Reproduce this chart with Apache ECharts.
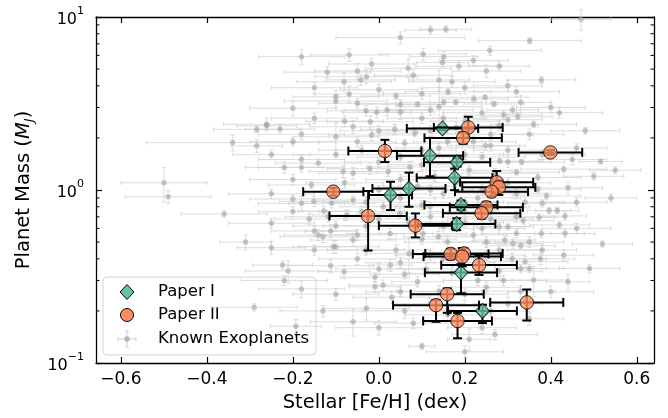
<!DOCTYPE html>
<html>
<head>
<meta charset="utf-8">
<script src="https://cdn.jsdelivr.net/npm/echarts@6/dist/echarts.min.js"></script>
<style>
html,body{margin:0;padding:0;background:#fff;}
#chart{width:668px;height:418px;}
</style>
</head>
<body>
<div id="chart"></div>
<script>
// ---------- DATA ----------
const xTicks = [-0.6, -0.4, -0.2, 0.0, 0.2, 0.4, 0.6];
const yMinor = [0.2,0.3,0.4,0.5,0.6,0.7,0.8,0.9,2,3,4,5,6,7,8,9];

// Paper I (green diamonds)
const p1FeH    = [0.148, 0.119, 0.182, 0.176, 0.027, 0.070, 0.191, 0.181, 0.191, 0.241];
const p1FeHErr = [0.083, 0.077, 0.077, 0.088, 0.05, 0.085, 0.085, 0.09, 0.084, 0.08];
const p1Mass   = [2.27, 1.58, 1.445, 1.178, 0.936, 1.02, 0.819, 0.636, 0.333, 0.20];
const p1MassLo = [0.05, 0.38, 0.08, 0.18, 0.17, 0.22, 0.05, 0.05, 0.08, 0.03];
const p1MassHi = [0.05, 0.42, 0.08, 0.15, 0.18, 0.24, 0.05, 0.05, 0.04, 0.017];

// Paper II (orange circles)
const p2FeH    = [0.208, 0.196, 0.014, -0.106, -0.025, 0.085, 0.399, 0.274, 0.279, 0.262, 0.25, 0.239, 0.167, 0.198, 0.194, 0.233, 0.159, 0.133, 0.183, 0.344];
const p2FeHErr = [0.08, 0.09, 0.085, 0.07, 0.09, 0.085, 0.074, 0.085, 0.085, 0.085, 0.085, 0.09, 0.088, 0.09, 0.09, 0.088, 0.085, 0.1, 0.08, 0.085];
const p2Mass   = [2.30, 2.0, 1.68, 0.978, 0.707, 0.622, 1.65, 1.108, 1.036, 0.978, 0.794, 0.734, 0.427, 0.43, 0.412, 0.368, 0.25, 0.216, 0.175, 0.224];
const p2MassLo = [0.3, 0.15, 0.23, 0.05, 0.26, 0.09, 0.05, 0.15, 0.1, 0.06, 0.06, 0.05, 0.03, 0.03, 0.05, 0.045, 0.055, 0.043, 0.036, 0.048];
const p2MassHi = [0.35, 0.15, 0.27, 0.05, 0.28, 0.11, 0.05, 0.18, 0.1, 0.06, 0.06, 0.05, 0.03, 0.03, 0.05, 0.05, 0.02, 0.015, 0.02, 0.042];

// Known exoplanets (grey)
const knownFeH = [
 -0.18,-0.069,-0.017,-0.05,-0.029,-0.081,-0.042,-0.10,-0.10,-0.069,
 -0.05,-0.20,-0.03,-0.261,0.47,0.12,0.156,0.05,0.351,0.103,
 0.151,0.258,0.068,0.148,0.186,0.25,0.28,0.14,0.17,0.378,
 0.161,0.04,0.05,0.09,0.14,0.151,0.179,0.221,0.247,0.268,
 0.33,-0.005,0.019,0.05,0.24,0.29,0.311,0.323,-0.02,-0.261,
 -0.284,-0.23,-0.34,-0.284,-0.20,-0.18,-0.18,-0.50,-0.49,-0.20,
 -0.18,-0.36,-0.25,-0.31,-0.25,-0.162,-0.157,-0.151,-0.128,-0.15,
 -0.112,-0.13,-0.10,-0.224,-0.211,-0.112,-0.22,-0.18,-0.29,-0.193,
 -0.081,-0.009,0.027,0.06,0.07,-0.009,0.01,0.05,0.09,-0.029,
 -0.06,0.10,0.20,0.21,0.25,0.52,0.376,0.34,0.35,0.33,
 0.49,0.44,0.40,0.36,0.29,0.27,0.33,0.516,0.43,0.332,
 0.281,0.32,0.37,0.44,0.37,0.39,0.46,0.38,0.396,0.415,
 0.433,0.373,0.42,0.336,0.433,0.378,0.30,0.28,0.32,0.293,
 0.312,0.248,-0.06,-0.10,-0.017,0.037,0.06,0.084,-0.141,-0.083,
 -0.06,-0.021,0.022,0.072,-0.11,-0.06,-0.075,-0.118,0.01,0.049,
 0.119,0.026,-0.06,-0.106,-0.141,0.138,0.103,0.15,0.20,0.12,
 0.22,0.26,0.10,0.16,0.24,0.30,0.21,0.13,0.27,0.09,
 0.15,0.23,0.32,0.12,0.20,0.26,0.16,0.22,0.28,0.12,
 0.17,0.23,0.14,0.30,0.06,0.35,0.0,0.43,0.46,0.50,
 0.54,0.48,0.42,0.36,0.46,0.55,0.05,-0.04,0.0,-0.03,0.04,
 0.0,0.2,0.3,-0.12,0.08,0.22,0.32,0.1,-0.15,0.4,
 -0.15,-0.08,0.1,0.18,0.28,0.35,-0.18,0.0,0.3,0.12,
 -0.25,-0.1,0.0,0.14,0.2,0.26,0.38,-0.05,0.1,0.3,-0.22,0.45,
 -0.2,-0.08,0.05,0.12,0.18,0.24,0.3,0.34,0.05,-0.03,0.2,0.27,-0.25,0.1,
 -0.2,-0.04,0.07,0.15,0.24,0.32,0.0,-0.1,0.2,0.1,0.25,-0.05,0.35,
 -0.15,-0.05,0.05,0.15,0.25,0.31,0.0,0.11,0.19,0.28,-0.03,0.38,
 -0.1,0.03,0.12,0.2,0.26,0.33,0.16,0.08,0.24,-0.13
];
const knownFeHErr = [
 0.10,0.09,0.10,0.10,0.12,0.11,0.08,0.10,0.12,0.08,
 0.09,0.10,0.09,0.10,0.07,0.06,0.06,0.15,0.12,0.10,
 0.08,0.12,0.10,0.06,0.10,0.08,0.07,0.07,0.10,0.08,
 0.10,0.08,0.10,0.05,0.10,0.10,0.06,0.08,0.10,0.07,
 0.07,0.08,0.10,0.08,0.09,0.09,0.06,0.08,0.10,0.07,
 0.10,0.08,0.20,0.06,0.10,0.10,0.10,0.10,0.10,0.10,
 0.10,0.10,0.10,0.06,0.08,0.08,0.10,0.08,0.06,0.10,
 0.06,0.10,0.10,0.07,0.10,0.10,0.10,0.10,0.10,0.06,
 0.06,0.08,0.05,0.08,0.10,0.06,0.08,0.08,0.06,0.10,
 0.10,0.03,0.09,0.05,0.08,0.07,0.08,0.10,0.08,0.06,
 0.07,0.05,0.10,0.08,0.10,0.10,0.08,0.05,0.10,0.10,
 0.10,0.10,0.10,0.08,0.10,0.08,0.07,0.08,0.05,0.05,
 0.05,0.06,0.07,0.07,0.07,0.10,0.06,0.06,0.08,0.07,
 0.07,0.08,0.10,0.10,0.10,0.08,0.10,0.10,0.10,0.08,
 0.08,0.10,0.08,0.10,0.10,0.08,0.08,0.10,0.10,0.10,
 0.08,0.10,0.10,0.08,0.08,0.08,0.10,0.10,0.08,0.10,
 0.10,0.10,0.08,0.08,0.10,0.08,0.10,0.08,0.10,0.08,
 0.10,0.10,0.08,0.10,0.08,0.10,0.10,0.08,0.10,0.08,
 0.10,0.08,0.10,0.08,0.10,0.08,0.10,0.07,0.08,0.07,
 0.06,0.08,0.10,0.10,0.07,0.06,0.10,0.10,0.10,0.10,0.08,
 0.09,0.1,0.08,0.1,0.09,0.08,0.1,0.09,0.1,0.08,
 0.1,0.09,0.08,0.1,0.09,0.08,0.1,0.09,0.08,0.1,
 0.09,0.1,0.08,0.1,0.09,0.08,0.1,0.09,0.08,0.1,0.09,0.08,
 0.1,0.09,0.08,0.1,0.09,0.08,0.1,0.09,0.08,0.1,0.09,0.08,0.1,0.09,
 0.08,0.1,0.09,0.08,0.1,0.09,0.08,0.1,0.09,0.08,0.1,0.09,0.08,
 0.1,0.09,0.08,0.1,0.09,0.08,0.1,0.09,0.08,0.1,0.09,0.08,
 0.1,0.09,0.08,0.1,0.09,0.08,0.1,0.09,0.08,0.1
];
const knownMass = [
 5.9,6.04,5.35,4.87,4.52,4.23,4.33,3.46,3.27,3.59,
 3.17,2.97,2.87,2.40,9.7,8.4,8.5,7.6,7.3,6.1,
 5.9,6.4,5.05,5.45,5.2,4.87,5.2,4.33,4.23,4.33,
 3.7,3.49,3.13,3.13,3.03,3.21,3.21,3.36,3.44,3.14,
 3.21,2.81,2.90,2.81,2.80,2.71,2.90,2.65,2.48,2.35,
 2.24,2.25,1.88,1.80,1.90,1.50,1.35,1.10,0.915,0.887,
 0.838,0.727,0.642,0.50,0.464,0.68,1.07,0.86,0.756,0.58,
 0.58,0.537,0.47,0.368,0.34,0.365,0.30,0.268,0.21,0.163,
 0.337,0.313,0.368,0.326,0.43,0.276,0.282,0.258,0.295,0.207,
 0.173,0.125,0.116,0.137,0.274,0.487,0.40,0.385,0.352,0.352,
 0.352,0.295,0.258,0.302,0.30,0.146,0.476,1.46,1.32,1.45,
 1.47,1.27,1.18,1.03,1.01,0.923,0.85,0.838,0.76,0.76,
 0.708,0.695,0.628,0.665,0.56,0.56,0.614,0.614,0.56,0.514,
 0.49,1.80,2.32,2.03,2.08,2.24,1.86,2.13,1.43,1.28,
 1.25,1.33,1.28,1.36,0.838,0.875,0.717,0.70,0.80,0.733,
 0.80,0.56,0.514,0.47,0.55,0.537,0.56,2.6,2.5,2.2,
 1.9,2.1,1.7,1.9,1.55,1.7,1.3,1.2,1.25,1.05,
 0.95,0.9,0.95,0.7,0.75,0.68,0.5,0.55,0.45,0.42,
 0.33,0.3,0.26,0.22,0.2,0.18,0.16,0.42,0.6,1.2,
 0.9,2.2,2.8,2.4,1.75,1.3,1.55,1.7,1.0,0.62,0.45,
 3.8,3.9,4.0,4.8,4.6,5.6,3.7,3.6,3.9,3.0,
 2.6,2.5,2.6,2.3,2.35,2.1,2.1,2.2,2.55,2.9,
 1.6,1.6,1.45,1.75,1.6,1.8,1.6,1.9,1.4,1.45,1.35,1.5,
 1.15,1.1,1.15,1.0,1.1,1.0,1.1,0.85,0.9,0.85,0.85,0.8,0.95,0.82,
 0.75,0.75,0.65,0.62,0.6,0.7,0.68,0.62,0.65,0.52,0.5,0.55,0.5,
 0.45,0.4,0.38,0.4,0.42,0.4,0.35,0.35,0.38,0.34,0.45,0.45,
 0.25,0.24,0.22,0.25,0.2,0.26,0.19,0.17,0.16,0.2
];
const knownMassErr = [
 0.6,0.5,0.4,0.5,0.4,0.5,0.3,0.3,0.3,0.4,
 0.2,0.3,0.2,0.2,1.3,0.5,0.4,0.6,0.3,0.5,
 0.4,0.4,0.6,0.3,0.3,0.4,0.3,0.6,0.3,0.2,
 0.15,0.15,0.2,0.1,0.9,0.1,0.1,0.15,0.1,0.1,
 0.3,0.2,0.2,0.25,0.15,0.15,0.15,0.1,0.2,0.1,
 0.1,0.15,0.2,0.15,0.1,0.08,0.08,0.25,0.08,0.05,
 0.08,0.03,0.04,0.05,0.04,0.05,0.05,0.06,0.05,0.04,
 0.05,0.04,0.04,0.02,0.05,0.03,0.02,0.03,0.01,0.015,
 0.03,0.02,0.03,0.02,0.1,0.02,0.02,0.015,0.02,0.03,
 0.03,0.005,0.01,0.02,0.02,0.02,0.03,0.03,0.02,0.02,
 0.02,0.03,0.02,0.06,0.02,0.01,0.02,0.05,0.05,0.05,
 0.05,0.05,0.05,0.08,0.04,0.04,0.05,0.04,0.03,0.03,
 0.04,0.03,0.03,0.03,0.03,0.03,0.03,0.03,0.03,0.03,
 0.03,0.1,0.2,0.4,0.15,0.15,0.1,0.1,0.08,0.1,
 0.1,0.1,0.08,0.1,0.05,0.05,0.05,0.05,0.05,0.05,
 0.05,0.04,0.04,0.04,0.04,0.04,0.04,0.2,0.2,0.15,
 0.15,0.15,0.1,0.1,0.1,0.1,0.08,0.08,0.08,0.06,
 0.06,0.06,0.06,0.05,0.05,0.05,0.04,0.04,0.03,0.03,
 0.03,0.02,0.02,0.02,0.02,0.015,0.015,0.03,0.04,0.06,
 0.05,0.1,0.2,0.1,0.1,0.06,0.08,0.1,0.06,0.04,0.03,
 0.3,0.3,0.3,0.35,0.35,0.4,0.25,0.25,0.3,0.2,
 0.18,0.18,0.18,0.15,0.15,0.15,0.15,0.15,0.18,0.2,
 0.1,0.1,0.1,0.12,0.1,0.12,0.1,0.13,0.1,0.1,0.1,0.1,
 0.08,0.07,0.08,0.07,0.07,0.07,0.07,0.06,0.06,0.06,0.06,0.05,0.06,0.05,
 0.05,0.05,0.04,0.04,0.04,0.05,0.04,0.04,0.04,0.035,0.035,0.04,0.035,
 0.03,0.03,0.025,0.03,0.03,0.03,0.025,0.025,0.025,0.025,0.03,0.03,
 0.02,0.02,0.015,0.02,0.015,0.02,0.015,0.012,0.012,0.015
];

// ---------- BUILD ----------
const FONT = '"DejaVu Sans", sans-serif';
const xMin = -0.658, xMax = 0.64;
const ORANGE = '#fc8d62', GREEN = '#66c2a5';

function rows(fx, fxe, m, mlo, mhi) {
  const n = Math.min(fx.length, fxe.length, m.length, mlo.length, mhi.length);
  const out = [];
  for (let i = 0; i < n; i++) out.push([fx[i], m[i], fxe[i], mlo[i], mhi[i]]);
  return out;
}
const knownRows = rows(knownFeH, knownFeHErr, knownMass, knownMassErr, knownMassErr);
const p1Rows = rows(p1FeH, p1FeHErr, p1Mass, p1MassLo, p1MassHi);
const p2Rows = rows(p2FeH, p2FeHErr, p2Mass, p2MassLo, p2MassHi);

function errRender(color, width, cap, opacity) {
  return function (params, api) {
    const x = api.value(0), y = api.value(1), xe = api.value(2), ylo = api.value(3), yhi = api.value(4);
    const l = api.coord([x - xe, y]), r = api.coord([x + xe, y]);
    const b = api.coord([x, Math.max(y - ylo, 1e-3)]), t = api.coord([x, y + yhi]);
    const st = { stroke: color, lineWidth: width, opacity: opacity };
    const L = (x1, y1, x2, y2) => ({ type: 'line', shape: { x1, y1, x2, y2 }, style: st });
    return {
      type: 'group',
      children: [
        L(l[0], l[1], r[0], r[1]),
        L(b[0], b[1], t[0], t[1]),
        L(l[0], l[1] - cap, l[0], l[1] + cap),
        L(r[0], r[1] - cap, r[0], r[1] + cap),
        L(t[0] - cap, t[1], t[0] + cap, t[1]),
        L(b[0] - cap, b[1], b[0] + cap, b[1])
      ]
    };
  };
}

function yLabel(v) {
  const e = Math.round(Math.log10(v));
  return '{b|10}{s|' + (e < 0 ? '\u2212' + (-e) : e) + '}';
}

const chart = echarts.init(document.getElementById('chart'), null, { renderer: 'canvas' });

const axisLineStyle = { color: '#000', width: 1.3 };
const tickStyle = { color: '#000', width: 1.2 };

const option = {
  animation: false,
  backgroundColor: '#fff',
  textStyle: { fontFamily: FONT },
  grid: { left: 96, right: 14, top: 17, bottom: 55, containLabel: false },
  xAxis: [
    {
      type: 'value', min: xMin, max: xMax,
      axisLine: { show: true, onZero: false, lineStyle: axisLineStyle },
      axisTick: { show: true, inside: true, length: 6, lineStyle: tickStyle, customValues: xTicks },
      axisLabel: {
        customValues: xTicks, fontSize: 17, color: '#000', fontFamily: FONT, margin: 8,
        formatter: v => (v < -1e-9 ? '\u2212' : '') + Math.abs(v).toFixed(1)
      },
      splitLine: { show: false },
      name: 'Stellar [Fe/H] (dex)', nameLocation: 'middle', nameGap: 24,
      nameTextStyle: { fontSize: 19.5, color: '#000', fontFamily: FONT }
    },
    {
      type: 'value', position: 'top', min: xMin, max: xMax,
      axisLine: { show: true, onZero: false, lineStyle: axisLineStyle },
      axisTick: { show: true, inside: true, length: 6, lineStyle: tickStyle, customValues: xTicks },
      axisLabel: { show: false },
      splitLine: { show: false }
    }
  ],
  yAxis: [
    {
      type: 'log', logBase: 10, min: 0.1, max: 10,
      axisLine: { show: true, onZero: false, lineStyle: axisLineStyle },
      axisTick: { show: true, inside: true, length: 6, lineStyle: tickStyle },
      axisLabel: {
        color: '#000', margin: 12, formatter: yLabel,
        rich: {
          b: { fontSize: 16, fontFamily: FONT, color: '#000', lineHeight: 22, verticalAlign: 'bottom' },
          s: { fontSize: 11, fontFamily: FONT, color: '#000', lineHeight: 22, verticalAlign: 'top' }
        }
      },
      splitLine: { show: false },
      name: '{n|Planet Mass (}{i|M}{j|J}{n|)}', nameLocation: 'middle', nameGap: 60,
      nameTextStyle: {
        rich: {
          n: { fontSize: 19.5, fontFamily: FONT, color: '#000', lineHeight: 24, verticalAlign: 'middle' },
          i: { fontSize: 19.5, fontFamily: FONT, fontStyle: 'italic', color: '#000', lineHeight: 24, verticalAlign: 'middle' },
          j: { fontSize: 13, fontFamily: FONT, fontStyle: 'italic', color: '#000', lineHeight: 24, verticalAlign: 'bottom' }
        }
      }
    },
    {
      type: 'log', logBase: 10, min: 0.1, max: 10, position: 'right',
      axisLine: { show: true, onZero: false, lineStyle: axisLineStyle },
      axisTick: { show: true, inside: true, length: 6, lineStyle: tickStyle },
      axisLabel: { show: false },
      splitLine: { show: false }
    }
  ],
  series: [
    {
      type: 'custom', name: 'minorTicks', silent: true, clip: false, z: 10,
      data: yMinor.map(v => [xMin, v]),
      renderItem: function (params, api) {
        const v = api.value(1);
        const p1 = api.coord([xMin, v]), p2 = api.coord([xMax, v]);
        const st = { stroke: '#000', lineWidth: 1 };
        return { type: 'group', children: [
          { type: 'line', shape: { x1: p1[0], y1: p1[1], x2: p1[0] + 3.5, y2: p1[1] }, style: st },
          { type: 'line', shape: { x1: p2[0], y1: p2[1], x2: p2[0] - 3.5, y2: p2[1] }, style: st }
        ] };
      }
    },
    {
      type: 'custom', name: 'Known Exoplanets err', silent: true, z: 1,
      data: knownRows, encode: { x: 0, y: 1 },
      renderItem: errRender('#cfcfcf', 1, 2.2, 0.7)
    },
    {
      type: 'scatter', name: 'Known Exoplanets', silent: true, z: 2,
      data: knownRows.map(r => [r[0], r[1]]),
      symbol: 'circle', symbolSize: 5.5,
      itemStyle: { color: '#9a9a9a', opacity: 0.55 }
    },
    {
      type: 'custom', name: 'Paper I err', silent: true, z: 3,
      data: p1Rows, encode: { x: 0, y: 1 },
      renderItem: errRender('#000', 2, 4.5, 1)
    },
    {
      type: 'scatter', name: 'Paper I', silent: true, z: 4,
      data: p1Rows.map(r => [r[0], r[1]]),
      symbol: 'diamond', symbolSize: [14, 15],
      itemStyle: { color: GREEN, borderColor: '#000', borderWidth: 1 }
    },
    {
      type: 'custom', name: 'Paper II err', silent: true, z: 5,
      data: p2Rows, encode: { x: 0, y: 1 },
      renderItem: errRender('#000', 2, 4.5, 1)
    },
    {
      type: 'scatter', name: 'Paper II', silent: true, z: 6,
      data: p2Rows.map(r => [r[0], r[1]]),
      symbol: 'circle', symbolSize: 13.5,
      itemStyle: { color: ORANGE, borderColor: '#000', borderWidth: 1 }
    }
  ],
  graphic: [
    {
      type: 'group', z: 100, silent: true,
      children: [
        { type: 'rect', shape: { x: 103, y: 277, width: 213, height: 78, r: 4 },
          style: { fill: 'rgba(255,255,255,0.8)', stroke: '#d6d6d6', lineWidth: 1 } },
        { type: 'polygon', shape: { points: [[127, 284.5], [134, 292], [127, 299.5], [120, 292]] },
          style: { fill: GREEN, stroke: '#000', lineWidth: 1 } },
        { type: 'circle', shape: { cx: 127, cy: 315, r: 6.5 },
          style: { fill: ORANGE, stroke: '#000', lineWidth: 1 } },
        { type: 'line', shape: { x1: 118, y1: 339, x2: 136, y2: 339 }, style: { stroke: '#cfcfcf', lineWidth: 1 } },
        { type: 'line', shape: { x1: 127, y1: 331, x2: 127, y2: 347 }, style: { stroke: '#cfcfcf', lineWidth: 1 } },
        { type: 'line', shape: { x1: 118, y1: 337, x2: 118, y2: 341 }, style: { stroke: '#cfcfcf', lineWidth: 1 } },
        { type: 'line', shape: { x1: 136, y1: 337, x2: 136, y2: 341 }, style: { stroke: '#cfcfcf', lineWidth: 1 } },
        { type: 'line', shape: { x1: 125, y1: 331, x2: 129, y2: 331 }, style: { stroke: '#cfcfcf', lineWidth: 1 } },
        { type: 'line', shape: { x1: 125, y1: 347, x2: 129, y2: 347 }, style: { stroke: '#cfcfcf', lineWidth: 1 } },
        { type: 'circle', shape: { cx: 127, cy: 339, r: 2.7 }, style: { fill: '#b5b5b5' } },
        { type: 'text', x: 158, y: 292, style: { text: 'Paper I', fontSize: 16.5, fontFamily: FONT, fill: '#000', verticalAlign: 'middle' } },
        { type: 'text', x: 158, y: 315, style: { text: 'Paper II', fontSize: 16.5, fontFamily: FONT, fill: '#000', verticalAlign: 'middle' } },
        { type: 'text', x: 158, y: 339, style: { text: 'Known Exoplanets', fontSize: 16.5, fontFamily: FONT, fill: '#000', verticalAlign: 'middle' } }
      ]
    }
  ]
};

chart.setOption(option);
</script>
</body>
</html>
